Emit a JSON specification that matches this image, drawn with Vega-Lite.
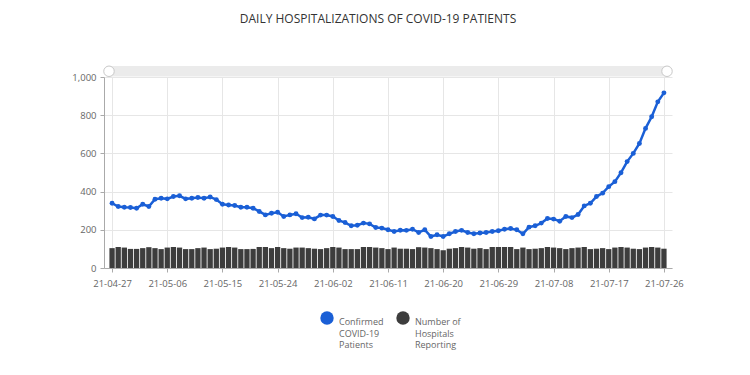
{
  "$schema": "https://vega.github.io/schema/vega-lite/v6.json",
  "width": 568,
  "height": 191,
  "autosize": {"type": "none"},
  "padding": {"left": 104, "top": 77, "right": 78, "bottom": 107},
  "background": "white",
  "title": {
    "text": "DAILY HOSPITALIZATIONS OF COVID-19 PATIENTS",
    "font": "Open Sans",
    "fontSize": 12,
    "fontWeight": "normal",
    "color": "#333333",
    "offset": 38,
    "dx": -10
  },
  "config": {
    "view": {"stroke": null},
    "font": "Open Sans",
    "axis": {
      "labelFont": "Open Sans",
      "labelFontSize": 9.5,
      "labelColor": "#666666",
      "gridColor": "#e6e6e6",
      "domainColor": "#aaaaaa",
      "tickColor": "#aaaaaa",
      "tickSize": 4,
      "title": null
    }
  },
  "datasets": {
    "daily": [
      {"d": "2021-04-27", "p": 339, "h": 104},
      {"d": "2021-04-28", "p": 322, "h": 110},
      {"d": "2021-04-29", "p": 318, "h": 107},
      {"d": "2021-04-30", "p": 317, "h": 100},
      {"d": "2021-05-01", "p": 313, "h": 100},
      {"d": "2021-05-02", "p": 334, "h": 104},
      {"d": "2021-05-03", "p": 322, "h": 109},
      {"d": "2021-05-04", "p": 360, "h": 104},
      {"d": "2021-05-05", "p": 365, "h": 99},
      {"d": "2021-05-06", "p": 362, "h": 107},
      {"d": "2021-05-07", "p": 374, "h": 110},
      {"d": "2021-05-08", "p": 378, "h": 107},
      {"d": "2021-05-09", "p": 362, "h": 99},
      {"d": "2021-05-10", "p": 365, "h": 99},
      {"d": "2021-05-11", "p": 369, "h": 104},
      {"d": "2021-05-12", "p": 365, "h": 107},
      {"d": "2021-05-13", "p": 372, "h": 99},
      {"d": "2021-05-14", "p": 358, "h": 101},
      {"d": "2021-05-15", "p": 334, "h": 107},
      {"d": "2021-05-16", "p": 330, "h": 110},
      {"d": "2021-05-17", "p": 327, "h": 107},
      {"d": "2021-05-18", "p": 318, "h": 99},
      {"d": "2021-05-19", "p": 318, "h": 99},
      {"d": "2021-05-20", "p": 313, "h": 100},
      {"d": "2021-05-21", "p": 296, "h": 110},
      {"d": "2021-05-22", "p": 278, "h": 110},
      {"d": "2021-05-23", "p": 287, "h": 104},
      {"d": "2021-05-24", "p": 292, "h": 110},
      {"d": "2021-05-25", "p": 270, "h": 104},
      {"d": "2021-05-26", "p": 278, "h": 101},
      {"d": "2021-05-27", "p": 284, "h": 107},
      {"d": "2021-05-28", "p": 264, "h": 107},
      {"d": "2021-05-29", "p": 266, "h": 104},
      {"d": "2021-05-30", "p": 257, "h": 101},
      {"d": "2021-05-31", "p": 277, "h": 99},
      {"d": "2021-06-01", "p": 277, "h": 104},
      {"d": "2021-06-02", "p": 270, "h": 110},
      {"d": "2021-06-03", "p": 249, "h": 107},
      {"d": "2021-06-04", "p": 238, "h": 99},
      {"d": "2021-06-05", "p": 221, "h": 99},
      {"d": "2021-06-06", "p": 224, "h": 99},
      {"d": "2021-06-07", "p": 235, "h": 110},
      {"d": "2021-06-08", "p": 231, "h": 110},
      {"d": "2021-06-09", "p": 212, "h": 107},
      {"d": "2021-06-10", "p": 209, "h": 104},
      {"d": "2021-06-11", "p": 200, "h": 99},
      {"d": "2021-06-12", "p": 191, "h": 107},
      {"d": "2021-06-13", "p": 198, "h": 101},
      {"d": "2021-06-14", "p": 197, "h": 101},
      {"d": "2021-06-15", "p": 203, "h": 99},
      {"d": "2021-06-16", "p": 186, "h": 109},
      {"d": "2021-06-17", "p": 200, "h": 107},
      {"d": "2021-06-18", "p": 165, "h": 104},
      {"d": "2021-06-19", "p": 174, "h": 99},
      {"d": "2021-06-20", "p": 165, "h": 93},
      {"d": "2021-06-21", "p": 179, "h": 101},
      {"d": "2021-06-22", "p": 191, "h": 104},
      {"d": "2021-06-23", "p": 197, "h": 110},
      {"d": "2021-06-24", "p": 186, "h": 107},
      {"d": "2021-06-25", "p": 179, "h": 101},
      {"d": "2021-06-26", "p": 183, "h": 104},
      {"d": "2021-06-27", "p": 186, "h": 99},
      {"d": "2021-06-28", "p": 191, "h": 110},
      {"d": "2021-06-29", "p": 195, "h": 110},
      {"d": "2021-06-30", "p": 203, "h": 110},
      {"d": "2021-07-01", "p": 207, "h": 110},
      {"d": "2021-07-02", "p": 200, "h": 99},
      {"d": "2021-07-03", "p": 179, "h": 107},
      {"d": "2021-07-04", "p": 214, "h": 99},
      {"d": "2021-07-05", "p": 221, "h": 101},
      {"d": "2021-07-06", "p": 235, "h": 104},
      {"d": "2021-07-07", "p": 259, "h": 110},
      {"d": "2021-07-08", "p": 256, "h": 107},
      {"d": "2021-07-09", "p": 245, "h": 104},
      {"d": "2021-07-10", "p": 270, "h": 99},
      {"d": "2021-07-11", "p": 264, "h": 104},
      {"d": "2021-07-12", "p": 280, "h": 107},
      {"d": "2021-07-13", "p": 325, "h": 110},
      {"d": "2021-07-14", "p": 339, "h": 99},
      {"d": "2021-07-15", "p": 374, "h": 101},
      {"d": "2021-07-16", "p": 392, "h": 104},
      {"d": "2021-07-17", "p": 426, "h": 99},
      {"d": "2021-07-18", "p": 452, "h": 107},
      {"d": "2021-07-19", "p": 499, "h": 110},
      {"d": "2021-07-20", "p": 557, "h": 107},
      {"d": "2021-07-21", "p": 600, "h": 101},
      {"d": "2021-07-22", "p": 652, "h": 99},
      {"d": "2021-07-23", "p": 731, "h": 107},
      {"d": "2021-07-24", "p": 792, "h": 110},
      {"d": "2021-07-25", "p": 870, "h": 107},
      {"d": "2021-07-26", "p": 917, "h": 101}
    ],
    "slider": [
      {"d": "2021-04-26T12:00:00Z", "b": "2021-07-26T12:00:00Z", "y1": 1003, "y2": 1057}
    ],
    "handles": [
      {"d": "2021-04-26T12:00:00Z", "y": 1030},
      {"d": "2021-07-26T12:00:00Z", "y": 1030}
    ]
  },
  "encoding": {
    "x": {
      "field": "d",
      "type": "temporal",
      "scale": {
        "type": "utc",
        "domain": [
          {"year": 2021, "month": 4, "date": 26, "hours": 12, "utc": true},
          {"year": 2021, "month": 7, "date": 26, "hours": 12, "utc": true}
        ]
      },
      "axis": {
        "labelExpr": "utcFormat(datum.value, '%y-%m-%d')",
        "grid": true,
        "labelPadding": 6,
        "values": [
          {"year": 2021, "month": 4, "date": 27, "utc": true},
          {"year": 2021, "month": 5, "date": 6, "utc": true},
          {"year": 2021, "month": 5, "date": 15, "utc": true},
          {"year": 2021, "month": 5, "date": 24, "utc": true},
          {"year": 2021, "month": 6, "date": 2, "utc": true},
          {"year": 2021, "month": 6, "date": 11, "utc": true},
          {"year": 2021, "month": 6, "date": 20, "utc": true},
          {"year": 2021, "month": 6, "date": 29, "utc": true},
          {"year": 2021, "month": 7, "date": 8, "utc": true},
          {"year": 2021, "month": 7, "date": 17, "utc": true},
          {"year": 2021, "month": 7, "date": 26, "utc": true}
        ]
      }
    }
  },
  "layer": [
    {
      "data": {"name": "daily"},
      "mark": {"type": "bar", "size": 5.3},
      "encoding": {
        "y": {
          "field": "h",
          "type": "quantitative",
          "scale": {"domain": [0, 1000], "nice": false},
          "axis": {"values": [0, 200, 400, 600, 800, 1000], "labelExpr": "format(datum.value, ',')", "grid": true, "labelPadding": 4}
        },
        "color": {
          "datum": "Number of|Hospitals|Reporting",
          "type": "nominal",
          "scale": {
            "domain": ["Confirmed|COVID-19|Patients", "Number of|Hospitals|Reporting"],
            "range": ["#1a5fd6", "#3d3d3d"]
          },
          "legend": {
            "title": null,
            "orient": "none",
            "legendX": 216,
            "legendY": 234,
            "direction": "horizontal",
            "symbolType": "circle",
            "symbolSize": 180,
            "symbolStrokeWidth": 0,
            "labelExpr": "split(datum.label, '|')",
            "labelFontSize": 9,
            "labelColor": "#666666",
            "labelFont": "Open Sans",
            "labelBaseline": "top",
            "labelOffset": 5,
            "columnPadding": 12,
            "encode": {"labels": {"update": {"lineHeight": {"value": 11.5}}}}
          }
        }
      }
    },
    {
      "data": {"name": "daily"},
      "mark": {"type": "line", "strokeWidth": 2.5, "point": {"filled": true, "size": 24}},
      "encoding": {
        "y": {
          "field": "p",
          "type": "quantitative",
          "axis": {"values": [0, 200, 400, 600, 800, 1000], "labelExpr": "format(datum.value, ',')", "grid": true, "labelPadding": 4}
        },
        "color": {"datum": "Confirmed|COVID-19|Patients", "type": "nominal"}
      }
    },
    {
      "data": {"name": "slider"},
      "mark": {"type": "rect", "color": "#ebebeb", "clip": false},
      "encoding": {
        "x2": {"field": "b"},
        "y": {
          "field": "y1",
          "type": "quantitative",
          "axis": {"values": [0, 200, 400, 600, 800, 1000], "labelExpr": "format(datum.value, ',')", "grid": true, "labelPadding": 4}
        },
        "y2": {"field": "y2"}
      }
    },
    {
      "data": {"name": "handles"},
      "mark": {"type": "point", "filled": true, "fill": "white", "stroke": "#c8c8c8", "strokeWidth": 1, "size": 110, "opacity": 1, "clip": false},
      "encoding": {
        "y": {
          "field": "y",
          "type": "quantitative",
          "axis": {"values": [0, 200, 400, 600, 800, 1000], "labelExpr": "format(datum.value, ',')", "grid": true, "labelPadding": 4}
        }
      }
    }
  ]
}
